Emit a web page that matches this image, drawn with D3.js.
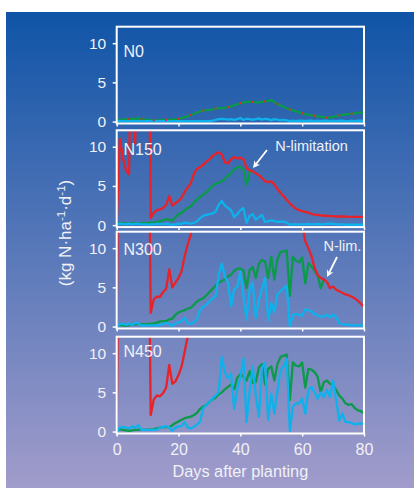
<!DOCTYPE html>
<html><head><meta charset="utf-8">
<script src="https://cdn.jsdelivr.net/npm/d3@7"></script>
<style>html,body{margin:0;padding:0;background:#fff;} svg{display:block;}</style>
</head><body>
<svg id="chart" width="414" height="488"></svg>
<script>
// ---------- data ----------
const OFF = 40; // above the plotted 0–12 range (clipped)
const days = d3.range(0, 81);
const xTicks = [0, 20, 40, 60, 80];
const yTicks = [0, 5, 10];
const panelLabels = ["N0", "N150", "N300", "N450"];

const n0Green = [0.2,0.2,0.25,0.3,0.3,0.35,0.35,0.4,0.35,0.25,
0.2,0.15,0.15,0.15,0.15,0.2,0.2,0.2,0.25,0.3,
0.35,0.45,0.55,0.7,0.85,1.0,1.15,1.3,1.4,1.45,
1.5,1.55,1.65,1.7,1.7,1.75,1.85,1.95,2.05,2.2,
2.35,2.45,2.5,2.55,2.5,2.45,2.45,2.5,2.6,2.6,
2.75,2.5,2.25,2.05,1.85,1.7,1.55,1.4,1.3,1.2,
1.05,0.95,0.85,0.8,0.75,0.65,0.6,0.55,0.5,0.5,
0.6,0.7,0.8,0.85,0.9,0.95,1.0,1.05,1.1,1.15,
1.15];
const n0Red = n0Green.slice(); // coincides with the green curve
const n0Cyan = [0.05,0.05,0.05,0.05,0.05,0.05,0.05,0.05,0.05,0.05,
0.05,0.05,0.05,0.05,0.05,0.05,0.05,0.05,0.05,0.05,
0.05,0.05,0.05,0.05,0.05,0.05,0.05,0.05,0.05,0.05,
0.05,0.1,0.2,0.3,0.35,0.3,0.25,0.3,0.2,0.3,
0.45,0.2,0.35,0.3,0.2,0.3,0.4,0.25,0.35,0.3,
0.15,0.3,0.25,0.15,0.2,0.15,0.05,0.1,0.05,0.1,
0.1,0.05,0.1,0.1,0.05,0.1,0.05,0.1,0.1,0.05,
0.1,0.05,0.1,0.1,0.05,0.05,0.1,0.05,0.1,0.1,
0.1];

const n150Red = [0,11.0,8.6,7.0,6.5,OFF,10.4,OFF,OFF,OFF,
OFF,0.9,1.6,1.9,2.0,2.2,2.6,3.7,2.5,2.8,
3.1,3.5,4.3,4.8,5.4,6.6,7.2,7.4,7.7,8.1,
8.4,8.8,9.1,9.3,9.0,8.0,7.9,8.4,8.7,8.5,
8.6,8.4,7.3,7.0,6.9,6.6,6.4,6.0,5.6,5.5,
5.6,5.2,4.6,4.1,3.7,3.2,2.8,2.4,2.1,1.9,
1.8,1.7,1.6,1.45,1.35,1.3,1.25,1.2,1.2,1.15,
1.15,1.1,1.1,1.1,1.1,1.05,1.05,1.05,1.05,1.05,
1.05];
const n150Green = [0.1,0.3,0.25,0.2,0.2,0.25,0.2,0.25,0.25,0.25,
0.3,0.3,0.35,0.4,0.5,0.6,0.75,0.7,0.6,1.0,
1.4,1.6,1.9,2.2,2.4,2.9,3.3,3.6,3.9,4.2,
4.6,5.0,5.3,5.4,5.6,5.9,6.3,6.6,7.1,7.4,
7.4,7.1,5.1,6.8,6.9,null,null,null,null,null,
null,null,null,null,null,null,null,null,null,null,
null,null,null,null,null,null,null,null,null,null,
null,null,null,null,null,null,null,null,null,null,
null];
const n150Cyan = [0.05,0.2,0.15,0.1,0.2,0.1,0.15,0.2,0.1,0.1,
0.1,0.1,0.1,0.15,0.15,0.1,0.2,0.1,0.05,0.1,
0.2,0.15,0.35,0.25,0.2,0.3,0.5,0.9,1.2,1.3,
1.4,1.5,1.7,2.6,3.1,2.5,2.2,1.9,1.0,1.4,
1.9,2.2,0.3,1.2,1.4,0.7,1.0,1.3,0.4,0.5,
0.6,0.5,0.4,0.45,0.45,0.3,0.05,0.1,0.1,0.1,
0.1,0.1,0.15,0.1,0.1,0.15,0.1,0.1,0.15,0.2,
0.15,0.1,0.1,0.1,0.05,0.05,0.05,0.05,0.05,0.05,
0.05];

const n300Red = [0,OFF,OFF,OFF,OFF,OFF,OFF,OFF,OFF,OFF,
OFF,1.75,3.5,3.8,3.8,4.4,4.8,7.3,5.0,5.6,
6.2,7.1,9.0,10.5,11.8,OFF,OFF,OFF,OFF,OFF,
OFF,OFF,OFF,OFF,OFF,OFF,OFF,OFF,OFF,OFF,
OFF,OFF,OFF,OFF,OFF,OFF,OFF,OFF,OFF,OFF,
OFF,OFF,OFF,OFF,OFF,OFF,OFF,OFF,OFF,OFF,
13,10.9,10.0,9.0,7.5,6.6,6.2,6.0,5.7,4.9,
5.1,4.7,4.5,4.3,4.1,4.0,3.8,3.6,3.3,2.9,
2.5];
const n300Green = [0.05,0.25,0.15,0.1,0.2,0.25,0.3,0.3,0.3,0.3,
0.35,0.35,0.4,0.5,0.65,0.7,0.7,0.9,1.0,1.5,
1.8,1.95,2.1,2.3,2.4,2.8,3.2,3.45,3.6,4.0,
4.4,4.8,5.2,5.6,5.8,6.0,6.4,6.6,7.1,7.4,
7.4,7.2,4.9,7.2,7.6,6.2,8.0,8.5,8.3,6.2,
8.9,6.0,8.6,9.5,9.6,9.7,3.9,8.9,8.4,8.2,
8.8,5.5,8.1,7.7,7.1,6.5,4.9,6.0,null,null,
null,null,null,null,null,null,null,null,null,null,
null];
const n300Cyan = [0,0.3,0.35,0.2,0.4,0.2,0.5,0.4,0.1,0.15,
0.15,0.15,0.15,0.1,0.25,0.3,0.45,0.3,0.05,0.45,
0.5,0.7,1.1,0.4,0.35,0.5,1.0,2.2,2.5,2.8,
3.2,3.6,3.9,6.6,8.0,6.4,5.6,2.6,4.8,5.0,
7.0,4.0,0.9,4.7,5.6,1.1,3.4,4.8,6.2,0.8,
3.0,1.8,4.1,4.5,4.9,5.2,0.05,1.5,1.6,1.5,
1.4,2.2,2.1,1.9,1.6,1.4,1.3,1.3,1.5,1.2,
1.5,1.2,0.45,0.3,0.25,0.2,0.15,0.15,0.15,0.15,
0.15];

const n450Red = [0,OFF,OFF,OFF,OFF,OFF,OFF,OFF,OFF,OFF,
OFF,2.1,4.1,4.6,4.5,4.9,5.6,8.5,6.1,6.4,
7.2,8.3,10.2,12.2,OFF,OFF,OFF,OFF,OFF,OFF,
OFF,OFF,OFF,OFF,OFF,OFF,OFF,OFF,OFF,OFF,
OFF,OFF,OFF,OFF,OFF,OFF,OFF,OFF,OFF,OFF,
OFF,OFF,OFF,OFF,OFF,OFF,OFF,OFF,OFF,OFF,
OFF,OFF,OFF,OFF,OFF,OFF,OFF,OFF,OFF,OFF,
OFF,OFF,OFF,OFF,OFF,OFF,OFF,OFF,OFF,OFF,
OFF];
const n450Green = [0.1,0.3,0.2,0.15,0.1,0.15,0.2,0.2,0.2,0.2,
0.25,0.25,0.3,0.4,0.5,0.55,0.6,0.55,0.8,1.1,
1.3,1.5,1.7,1.8,1.9,2.1,2.4,2.9,3.2,3.4,
3.8,4.1,4.35,4.75,5.0,5.4,5.7,6.0,5.4,6.9,
7.3,7.0,6.5,7.7,6.2,6.3,8.2,8.6,6.0,8.0,
8.3,6.5,8.6,9.5,9.7,9.8,4.0,8.85,8.4,8.3,
8.8,5.6,8.0,7.9,7.6,7.0,5.0,6.3,6.5,6.1,
5.9,5.3,4.6,4.2,3.6,3.4,3.5,3.0,2.7,2.6,
2.3];
const n450Cyan = [0,0.5,0.6,0.5,0.4,0.65,0.5,0.8,0.2,0.2,
0.2,0.2,0.2,0.25,0.5,0.6,0.7,0.5,0.1,0.5,
0.65,0.7,1.2,0.5,0.4,0.6,0.9,1.3,3.0,3.4,
3.8,4.2,4.6,5.0,9.5,7.5,6.8,7.4,2.9,5.4,
6.9,9.3,1.2,5.2,8.3,4.6,1.9,8.2,8.8,1.5,
4.8,2.3,5.2,7.8,8.3,9.3,0.1,3.2,3.6,3.6,
4.2,2.3,5.3,5.7,5.0,4.2,5.0,4.4,5.3,4.4,
6.5,4.0,1.4,2.3,1.2,1.2,1.1,0.9,1.0,1.05,
1.0];

const panels = [
  {label: panelLabels[0], red: n0Red, green: n0Green, cyan: n0Cyan, redDots: true},
  {label: panelLabels[1], red: n150Red, green: n150Green, cyan: n150Cyan},
  {label: panelLabels[2], red: n300Red, green: n300Green, cyan: n300Cyan},
  {label: panelLabels[3], red: n450Red, green: n450Green, cyan: n450Cyan}
];

// ---------- layout ----------
const W = 414, H = 488;
const FONT = "'Liberation Sans', Arial, Helvetica, sans-serif";
const TXT = "#f1f1f7";
const COL = {red: "#e82229", green: "#0a9a49", cyan: "#0db2ec"};
const panelTops = [26.7, 130.3, 231.7, 336.7];
const labelOffsets = [30.5, 25, 23.5, 20.5];
const panelH = 96.8;

const svg = d3.select("#chart");
const defs = svg.append("defs");
const grad = defs.append("linearGradient").attr("id", "bg")
  .attr("x1", 0).attr("y1", 0).attr("x2", 0).attr("y2", 1);
grad.append("stop").attr("offset", "0%").attr("stop-color", "#0f54a7");
grad.append("stop").attr("offset", "100%").attr("stop-color", "#a19ccb");
svg.append("rect").attr("x", 6).attr("y", 12).attr("width", W - 6).attr("height", H - 12)
  .attr("fill", "url(#bg)");

const x = d3.scaleLinear().domain([0, 80]).range([116.7, 364]);

panels.forEach((p, i) => {
  const top = panelTops[i];
  const y = d3.scaleLinear().domain([-0.25, 12.1]).range([top + panelH, top]);
  const g = svg.append("g");
  const clipId = "clip" + i;
  defs.append("clipPath").attr("id", clipId).append("rect")
    .attr("x", x(0)).attr("y", top).attr("width", x(80) - x(0)).attr("height", panelH);

  const line = d3.line()
    .defined(d => d[1] !== null)
    .x(d => x(d[0])).y(d => y(d[1]));
  const plot = g.append("g").attr("clip-path", `url(#${clipId})`);
  const pts = arr => days.map((d, k) => [d, arr[k]]);

  plot.append("path").attr("d", line(pts(p.green))).attr("fill", "none")
    .attr("stroke", COL.green).attr("stroke-width", 2.3).attr("stroke-linejoin", "round");
  plot.append("path").attr("d", line(pts(p.cyan))).attr("fill", "none")
    .attr("stroke", COL.cyan).attr("stroke-width", 2.3).attr("stroke-linejoin", "round");
  if (p.redDots) {
    plot.selectAll("circle.rd").data(pts(p.red).filter(d => d[0] % 4 === 0)).join("circle")
      .attr("cx", d => x(d[0])).attr("cy", d => y(d[1])).attr("r", 1.1).attr("fill", COL.red);
  } else {
    plot.append("path").attr("d", line(pts(p.red))).attr("fill", "none")
      .attr("stroke", COL.red).attr("stroke-width", 2.3).attr("stroke-linejoin", "round");
  }

  // frame
  g.append("rect").attr("x", x(0)).attr("y", top).attr("width", x(80) - x(0)).attr("height", panelH)
    .attr("fill", "none").attr("stroke", "#fff").attr("stroke-width", 2);

  // axes
  const ya = g.append("g").attr("transform", `translate(${x(0)},0)`)
    .call(d3.axisLeft(y).tickValues(yTicks).tickSize(4).tickPadding(6.5));
  ya.select(".domain").remove();
  ya.selectAll("line").attr("stroke", "#fff").attr("stroke-width", 1.5);
  ya.selectAll("text").attr("fill", TXT).attr("font-size", 15.5).attr("font-family", FONT);

  const last = i === panels.length - 1;
  const xa = g.append("g").attr("transform", `translate(0,${top + panelH})`)
    .call(d3.axisBottom(x).tickValues(xTicks).tickSize(3).tickPadding(7)
      .tickFormat(last ? d3.format("d") : () => ""));
  xa.select(".domain").remove();
  xa.selectAll("line").attr("stroke", "#fff").attr("stroke-width", 1.5);
  xa.selectAll("text").attr("fill", TXT).attr("font-size", 16).attr("font-family", FONT);

  g.append("text").attr("x", 123.5).attr("y", top + labelOffsets[i])
    .attr("fill", TXT).attr("font-size", 16).attr("font-family", FONT).text(p.label);
});

// annotations
function arrow(x1, y1, x2, y2) {
  const dx = x2 - x1, dy = y2 - y1, L = Math.hypot(dx, dy);
  const ux = dx / L, uy = dy / L, nx = -uy, ny = ux;
  const hl = 7, hw = 3.6;
  const bx = x2 - ux * hl, by = y2 - uy * hl;
  svg.append("line").attr("x1", x1).attr("y1", y1).attr("x2", bx + ux * 2).attr("y2", by + uy * 2)
    .attr("stroke", "#fff").attr("stroke-width", 1.8);
  svg.append("path").attr("d",
    `M${x2},${y2}L${bx + nx * hw},${by + ny * hw}L${bx + ux * 2},${by + uy * 2}L${bx - nx * hw},${by - ny * hw}Z`)
    .attr("fill", "#fff");
}
svg.append("text").attr("x", 275.3).attr("y", 151).attr("fill", TXT).attr("font-size", 14.5)
  .attr("font-family", FONT).text("N-limitation");
arrow(267, 150, 253, 168);
svg.append("text").attr("x", 323.5).attr("y", 250.5).attr("fill", TXT).attr("font-size", 14.5)
  .attr("font-family", FONT).text("N-lim.");
arrow(337, 257, 327, 277);

// axis titles
svg.append("text").attr("x", x(40)).attr("y", 476.5).attr("text-anchor", "middle")
  .attr("fill", TXT).attr("font-size", 16.3).attr("font-family", FONT).text("Days after planting");

const yt = svg.append("text").attr("transform", "translate(71,233) rotate(-90)")
  .attr("text-anchor", "middle").attr("fill", TXT).attr("font-size", 17).attr("font-family", FONT);
yt.append("tspan").text("(kg N·ha");
yt.append("tspan").attr("dy", -6).attr("font-size", 11.5).text("-1");
yt.append("tspan").attr("dy", 6).text("·d");
yt.append("tspan").attr("dy", -6).attr("font-size", 11.5).text("-1");
yt.append("tspan").attr("dy", 6).text(")");
</script>
</body></html>
